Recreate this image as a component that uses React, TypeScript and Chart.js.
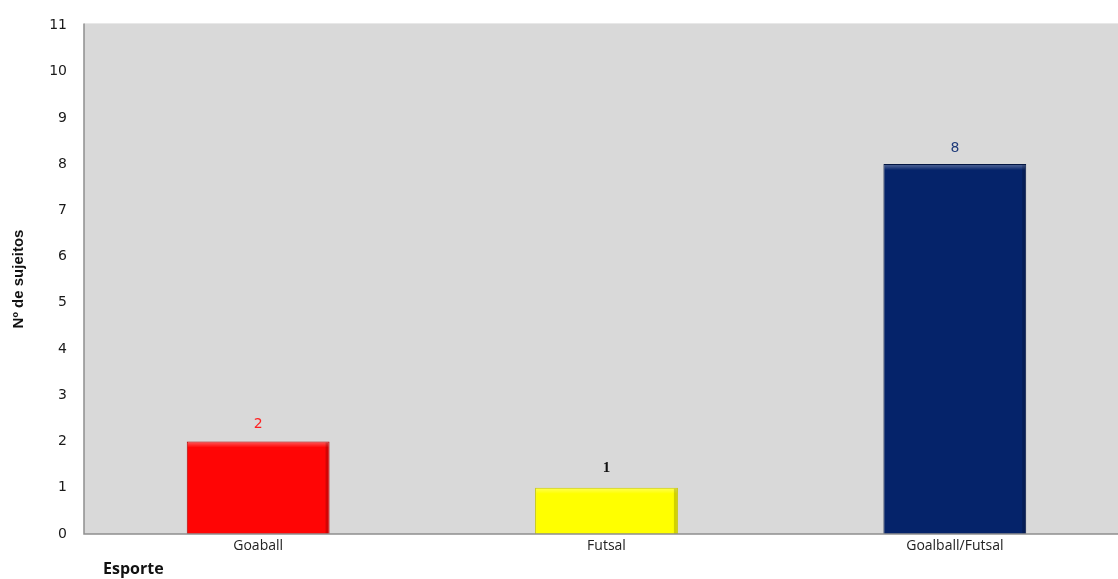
import React, { useEffect, useRef } from "react";
import { Chart, registerables } from "chart.js";

Chart.register(...registerables);

const categories = ["Goaball", "Futsal", "Goalball/Futsal"];
const values = [2, 1, 8];
const barColors = ["#ff0505", "#ffff00", "#05236a"];
const barEdges = ["#b30000", "#c8c800", "#031642"];
const labelColors = ["#ff2020", "#111111", "#1f3b7a"];
const labelFonts = [
  "14px 'DejaVu Sans'",
  "bold 15px 'Liberation Serif'",
  "14px 'DejaVu Sans'",
];
const labelOffsets = [17, 20, 16];
const yTitle = "Nº de sujeitos";
const xTitle = "Esporte";

const decorPlugin = {
  id: "decor",
  beforeDraw(chart: any) {
    const { ctx, chartArea } = chart;
    ctx.save();
    ctx.fillStyle = "#d9d9d9";
    ctx.fillRect(chartArea.left, chartArea.top - 2, chartArea.right - chartArea.left, chartArea.bottom - chartArea.top + 2);
    ctx.restore();
  },
  afterDatasetsDraw(chart: any) {
    const { ctx, chartArea } = chart;
    const meta = chart.getDatasetMeta(0);
    ctx.save();
    // bevel highlight along the top of each bar
    meta.data.forEach((bar: any) => {
      const half = bar.width / 2;
      const x0 = bar.x - half + 1;
      const x1 = bar.x + half - 1;
      const g = ctx.createLinearGradient(0, bar.y, 0, bar.y + 6);
      g.addColorStop(0, "rgba(255,255,255,0.35)");
      g.addColorStop(1, "rgba(255,255,255,0)");
      ctx.fillStyle = g;
      ctx.fillRect(x0, bar.y + 1, x1 - x0, 6);
      ctx.fillStyle = "rgba(0,0,0,0.18)";
      ctx.fillRect(x1 - 3, bar.y + 1, 3, bar.base - bar.y - 1);
    });
    // value labels
    ctx.textAlign = "center";
    ctx.textBaseline = "middle";
    meta.data.forEach((bar: any, i: number) => {
      ctx.font = labelFonts[i];
      ctx.fillStyle = labelColors[i];
      ctx.fillText(String(values[i]), bar.x, bar.y - labelOffsets[i]);
    });
    // axis lines
    ctx.strokeStyle = "#8f8f8f";
    ctx.lineWidth = 1.5;
    ctx.beginPath();
    ctx.moveTo(chartArea.left, chartArea.top - 2);
    ctx.lineTo(chartArea.left, chartArea.bottom);
    ctx.lineTo(chartArea.right, chartArea.bottom);
    ctx.stroke();
    // axis titles
    ctx.fillStyle = "#111111";
    ctx.font = "bold 15px 'Liberation Sans'";
    ctx.save();
    ctx.translate(19, 279);
    ctx.rotate(-Math.PI / 2);
    ctx.fillText(yTitle, 0, 0);
    ctx.restore();
    ctx.font = "bold 16px 'Open Sans'";
    ctx.textAlign = "left";
    ctx.fillText(xTitle, 103, 569);
    ctx.restore();
  },
};

export default function App() {
  const ref = useRef<HTMLCanvasElement>(null);
  useEffect(() => {
    if (!ref.current) return;
    const chart = new Chart(ref.current, {
      type: "bar",
      data: {
        labels: categories,
        datasets: [
          {
            data: values,
            backgroundColor: barColors,
            borderColor: barEdges,
            borderWidth: 1,
            categoryPercentage: 1,
            barPercentage: 0.41,
          },
        ],
      },
      options: {
        animation: false,
        responsive: false,
        maintainAspectRatio: false,
        layout: { padding: { top: 22, right: 11, left: 0, bottom: 0 } },
        plugins: { legend: { display: false }, tooltip: { enabled: false } },
        scales: {
          x: {
            grid: { display: false, drawTicks: false },
            border: { display: false },
            ticks: {
              color: "#222",
              font: { family: "'Open Sans'", size: 14 },
              padding: 4,
            },
            afterFit(scale: any) {
              scale.height = 45;
            },
          },
          y: {
            min: 0,
            max: 11,
            grid: { display: false, drawTicks: false },
            border: { display: false },
            ticks: {
              stepSize: 1,
              color: "#1a1a1a",
              font: { family: "'DejaVu Sans'", size: 14 },
              padding: 17,
            },
            afterFit(scale: any) {
              scale.width = 84;
            },
          },
        },
      },
      plugins: [decorPlugin],
    });
    return () => chart.destroy();
  }, []);
  return (
    <div style={{ position: "fixed", left: 0, top: 0, width: 1140, height: 579, background: "#fff" }}>
      <canvas ref={ref} width={1140} height={579} style={{ display: "block" }} />
    </div>
  );
}
